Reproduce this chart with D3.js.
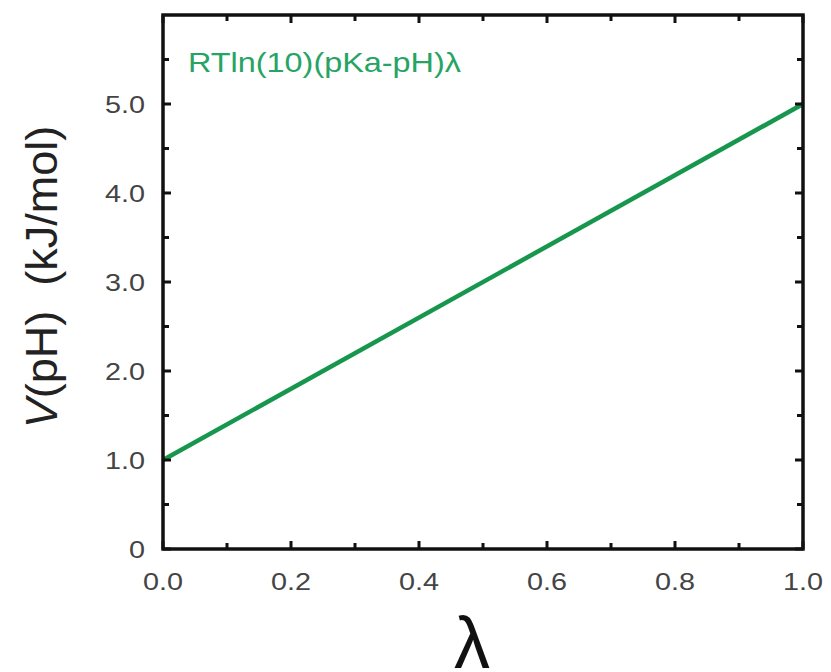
<!DOCTYPE html>
<html>
<head>
<meta charset="utf-8">
<script src="https://cdn.jsdelivr.net/npm/d3@7"></script>
<style>
  body { margin: 0; background: #fff; }
  #main { width: 831px; height: 672px; }
  text { font-family: "Liberation Sans", Arial, sans-serif; }
</style>
</head>
<body>
<div id="main"></div>
<script>
// data
const lambdaVals = [0.0, 1.0];
const potentialVals = [1.0, 5.0];
const xTickVals = [0.0, 0.2, 0.4, 0.6, 0.8, 1.0];
const xTickLabels = ["0.0", "0.2", "0.4", "0.6", "0.8", "1.0"];
const yTickVals = [0, 1, 2, 3, 4, 5];
const yTickLabels = ["0", "1.0", "2.0", "3.0", "4.0", "5.0"];
const xMinor = [0.1, 0.3, 0.5, 0.7, 0.9];
const yMinor = [0.5, 1.5, 2.5, 3.5, 4.5, 5.5];
const seriesLabel = "RTln(10)(pKa-pH)\u03bb";

function drawChart() {
    const width = 831, height = 672;
    const left = 163, right = 803, top = 15, bottom = 549;
    const stretch = 1.2; // the original text looks widened sideways

    const svg = d3.select("#main").append("svg")
        .attr("width", width)
        .attr("height", height);

    const x = d3.scaleLinear().domain([0, 1]).range([left, right]);
    const y = d3.scaleLinear().domain([0, 6]).range([bottom, top]);

    // series line
    const pts = lambdaVals.map((d, i) => [d, potentialVals[i]]);
    svg.append("path")
        .datum(pts)
        .attr("fill", "none")
        .attr("stroke", "#17964e")
        .attr("stroke-width", 4.5)
        .attr("d", d3.line().x(d => x(d[0])).y(d => y(d[1])));

    // inward ticks on all four sides
    const tickG = svg.append("g").attr("stroke", "#111").attr("stroke-width", 3);
    function xTicks(vals, len) {
        vals.forEach(v => {
            tickG.append("line").attr("x1", x(v)).attr("x2", x(v))
                .attr("y1", bottom).attr("y2", bottom - len);
            tickG.append("line").attr("x1", x(v)).attr("x2", x(v))
                .attr("y1", top).attr("y2", top + len);
        });
    }
    function yTicks(vals, len) {
        vals.forEach(v => {
            tickG.append("line").attr("y1", y(v)).attr("y2", y(v))
                .attr("x1", left).attr("x2", left + len);
            tickG.append("line").attr("y1", y(v)).attr("y2", y(v))
                .attr("x1", right).attr("x2", right - len);
        });
    }
    xTicks(xTickVals, 8);
    xTicks(xMinor, 6);
    yTicks(yTickVals, 8);
    yTicks(yMinor, 6);

    // frame
    svg.append("rect")
        .attr("x", left).attr("y", top)
        .attr("width", right - left).attr("height", bottom - top)
        .attr("fill", "none")
        .attr("stroke", "#111")
        .attr("stroke-width", 3.5);

    // tick labels
    svg.append("g").selectAll("text")
        .data(xTickVals)
        .join("text")
        .attr("transform", d => `translate(${x(d)},590) scale(${stretch},1)`)
        .attr("text-anchor", "middle")
        .attr("font-size", 24)
        .attr("fill", "#444")
        .text((d, i) => xTickLabels[i]);

    svg.append("g").selectAll("text")
        .data(yTickVals)
        .join("text")
        .attr("transform", d => `translate(145,${y(d) + 9}) scale(${stretch},1)`)
        .attr("text-anchor", "end")
        .attr("font-size", 24)
        .attr("fill", "#444")
        .text((d, i) => yTickLabels[i]);

    // series annotation
    svg.append("text")
        .attr("transform", `translate(188,72) scale(${stretch},1)`)
        .attr("font-size", 27)
        .attr("fill", "#27a464")
        .text(seriesLabel);

    // axis titles
    const yt = svg.append("text")
        .attr("transform", "translate(57,277) rotate(-90)")
        .attr("text-anchor", "middle")
        .attr("font-size", 45)
        .attr("fill", "#222");
    yt.append("tspan").attr("font-style", "italic").text("V");
    yt.append("tspan").text("(pH)\u00a0\u00a0(kJ/mol)");

    svg.append("text")
        .attr("x", 472)
        .attr("y", 668)
        .attr("text-anchor", "middle")
        .attr("font-family", "'Liberation Serif', serif")
        .attr("font-size", 72)
        .attr("fill", "#111")
        .text("\u03bb");
}

document.addEventListener("DOMContentLoaded", drawChart);
</script>
</body>
</html>
